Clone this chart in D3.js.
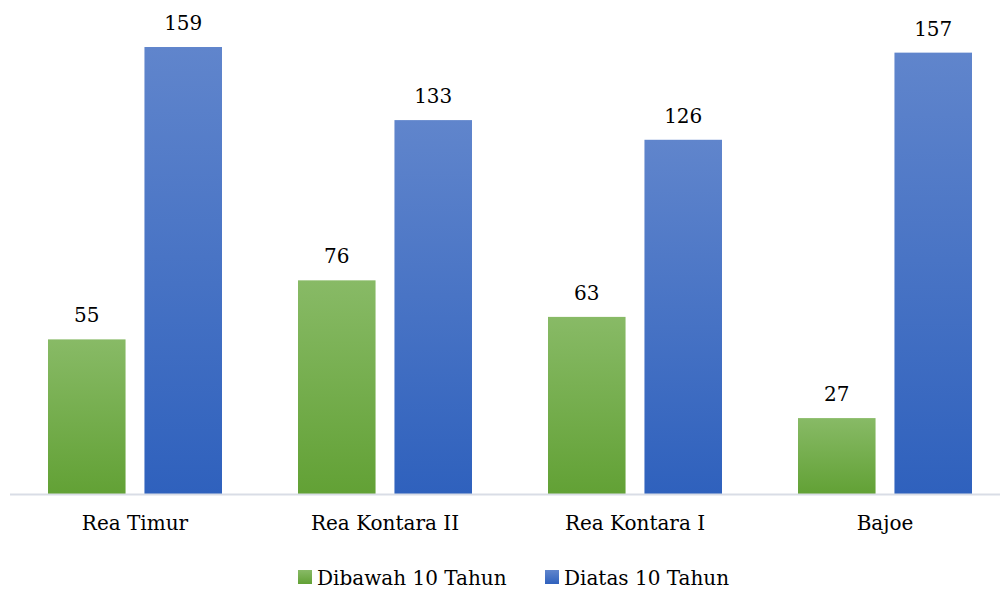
<!DOCTYPE html>
<html>
<head>
<meta charset="utf-8">
<script src="https://cdn.jsdelivr.net/npm/d3@7"></script>
<style>
  html, body { margin: 0; padding: 0; background: #fff; }
  svg { display: block; }
  text { font-family: "DejaVu Serif", "Liberation Serif", serif; fill: #000; }
</style>
</head>
<body>
<svg id="chart" width="1000" height="594"></svg>
<script>
// Wilayah dan jumlah per kelompok umur
const categories = ["Rea Timur", "Rea Kontara II", "Rea Kontara I", "Bajoe"];
const seriesNames = ["Dibawah 10 Tahun", "Diatas 10 Tahun"];
const dibawah10 = [55, 76, 63, 27];
const diatas10 = [159, 133, 126, 157];

const seriesValues = [dibawah10, diatas10];
const gradients = [
  { id: "gGreen", top: "#88ba66", bottom: "#62a135" },
  { id: "gBlue", top: "#6085cc", bottom: "#2f61bd" }
];

const svg = d3.select("#chart");
const fontSize = 20;

const defs = svg.append("defs");
gradients.forEach(g => {
  const lg = defs.append("linearGradient")
    .attr("id", g.id).attr("x1", 0).attr("y1", 0).attr("x2", 0).attr("y2", 1);
  lg.append("stop").attr("offset", "0%").attr("stop-color", g.top);
  lg.append("stop").attr("offset", "100%").attr("stop-color", g.bottom);
});

const x0 = d3.scaleBand()
  .domain(categories)
  .range([10, 1010])
  .paddingInner(0.304)
  .paddingOuter(0.152);

const x1 = d3.scaleBand()
  .domain(seriesNames)
  .range([0, x0.bandwidth()])
  .paddingInner(0.196)
  .paddingOuter(0);

const y = d3.scaleLinear().domain([0, 160]).range([494, 44.2]);

const rows = categories.map((c, i) => ({
  category: c,
  values: seriesNames.map((s, j) => ({ series: s, idx: j, value: seriesValues[j][i] }))
}));

const groups = svg.append("g").selectAll("g")
  .data(rows).join("g")
  .attr("transform", d => `translate(${x0(d.category)},0)`);

groups.selectAll("rect")
  .data(d => d.values).join("rect")
  .attr("x", d => x1(d.series))
  .attr("y", d => y(d.value))
  .attr("width", x1.bandwidth())
  .attr("height", d => y(0) - y(d.value))
  .attr("fill", d => `url(#${gradients[d.idx].id})`);

groups.selectAll("text.val")
  .data(d => d.values).join("text")
  .attr("class", "val")
  .attr("x", d => x1(d.series) + x1.bandwidth() / 2)
  .attr("y", d => y(d.value) - 17)
  .attr("text-anchor", "middle")
  .attr("font-size", fontSize)
  .text(d => d.value);

// Baseline axis
const xAxis = d3.axisBottom(x0).tickSize(0).tickPadding(22);
const axisG = svg.append("g")
  .attr("transform", `translate(0,${y(0)})`)
  .call(xAxis);
axisG.select(".domain")
  .attr("d", "M10,0.5H1000")
  .attr("stroke", "#d9dde6")
  .attr("stroke-width", 2);
axisG.selectAll(".tick text")
  .attr("font-size", fontSize)
  .attr("font-family", "DejaVu Serif, Liberation Serif, serif")
  .attr("fill", "#000")
  .attr("dy", "0.71em");

// Legend
const legendItems = [
  { name: seriesNames[0], x: 298, grad: gradients[0].id },
  { name: seriesNames[1], x: 545, grad: gradients[1].id }
];
const legend = svg.append("g").selectAll("g")
  .data(legendItems).join("g")
  .attr("transform", d => `translate(${d.x},570)`);
legend.append("rect")
  .attr("width", 14).attr("height", 14)
  .attr("fill", d => `url(#${d.grad})`);
legend.append("text")
  .attr("x", 19).attr("y", 15)
  .attr("font-size", fontSize)
  .text(d => d.name);
</script>
</body>
</html>
